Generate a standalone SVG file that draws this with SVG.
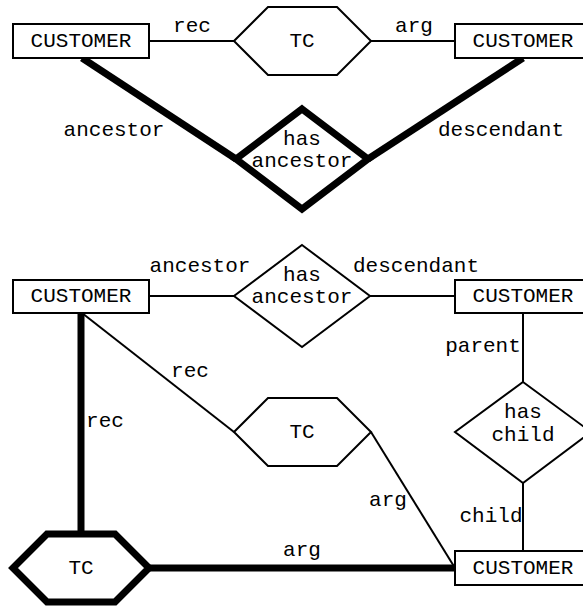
<svg xmlns="http://www.w3.org/2000/svg" width="583" height="606" viewBox="0 0 583 606">
<style>
.bg{fill:#fff}
.ent{fill:#fff;stroke:#000;stroke-width:2}
.thin{fill:none;stroke:#000;stroke-width:2}
.thick{fill:none;stroke:#000;stroke-width:7}
.shape{fill:#fff;stroke:#000;stroke-width:2;stroke-linejoin:miter}
.shapeT{fill:#fff;stroke:#000;stroke-width:7;stroke-linejoin:miter}
text{font-family:"Liberation Mono","Courier New",monospace;font-size:21px;fill:#000}
.c{text-anchor:middle}
</style>
<rect class="bg" x="0" y="0" width="583" height="606"/>
<g id="connectors">
<line class="thin" x1="149" y1="41" x2="234" y2="41"/>
<line class="thin" x1="371" y1="41" x2="455" y2="41"/>
<line class="thick" x1="82" y1="58" x2="236" y2="159"/>
<line class="thick" x1="523" y1="58" x2="368" y2="159"/>
<line class="thin" x1="149" y1="296" x2="234" y2="296"/>
<line class="thin" x1="370" y1="296" x2="455" y2="296"/>
<line class="thin" x1="523" y1="313" x2="523" y2="382"/>
<line class="thin" x1="523" y1="483" x2="523" y2="551"/>
<line class="thin" x1="82" y1="313" x2="234" y2="432"/>
<line class="thin" x1="371" y1="432" x2="455" y2="568"/>
<line class="thick" x1="81" y1="313" x2="81" y2="534"/>
<line class="thick" x1="149" y1="568" x2="455" y2="568"/>
<text class="c" x="192" y="32">rec</text>
<text class="c" x="414" y="32">arg</text>
<text class="c" x="114" y="136">ancestor</text>
<text class="c" x="501" y="136">descendant</text>
<text class="c" x="200" y="272">ancestor</text>
<text class="c" x="416" y="272">descendant</text>
<text class="c" x="483" y="352">parent</text>
<text class="c" x="491" y="522">child</text>
<text class="c" x="190" y="377">rec</text>
<text class="c" x="105" y="427">rec</text>
<text class="c" x="388" y="506">arg</text>
<text class="c" x="302" y="556">arg</text>
</g>
<g id="customer1">
<rect class="ent" x="13" y="24" width="136" height="34"/>
<text class="c" x="81" y="47">CUSTOMER</text>
</g>
<g id="tc1">
<polygon class="shape" points="234,41 268,7 337,7 371,41 337,75 268,75"/>
<text class="c" x="302" y="47">TC</text>
</g>
<g id="customer2">
<rect class="ent" x="455" y="24" width="136" height="34"/>
<text class="c" x="523" y="47">CUSTOMER</text>
</g>
<g id="hasancestor1">
<polygon class="shapeT" points="302,109 368,159 302,209 236,159"/>
<text class="c" x="302" y="145">has</text>
<text class="c" x="302" y="167">ancestor</text>
</g>
<g id="customer3">
<rect class="ent" x="13" y="280" width="136" height="33"/>
<text class="c" x="81" y="302">CUSTOMER</text>
</g>
<g id="hasancestor2">
<polygon class="shape" points="302,245 370,296 302,347 234,296"/>
<text class="c" x="302" y="281">has</text>
<text class="c" x="302" y="303">ancestor</text>
</g>
<g id="customer4">
<rect class="ent" x="455" y="280" width="136" height="33"/>
<text class="c" x="523" y="302">CUSTOMER</text>
</g>
<g id="haschild">
<polygon class="shape" points="523,382 591,432 523,483 455,432"/>
<text class="c" x="523" y="418">has</text>
<text class="c" x="523" y="441">child</text>
</g>
<g id="tc2">
<polygon class="shape" points="234,432 268,398 337,398 371,432 337,466 268,466"/>
<text class="c" x="302" y="438">TC</text>
</g>
<g id="tc3">
<polygon class="shapeT" points="13,568 47,534 115,534 149,568 115,602 47,602"/>
<text class="c" x="81" y="574">TC</text>
</g>
<g id="customer5">
<rect class="ent" x="455" y="551" width="136" height="34"/>
<text class="c" x="523" y="574">CUSTOMER</text>
</g>
</svg>
